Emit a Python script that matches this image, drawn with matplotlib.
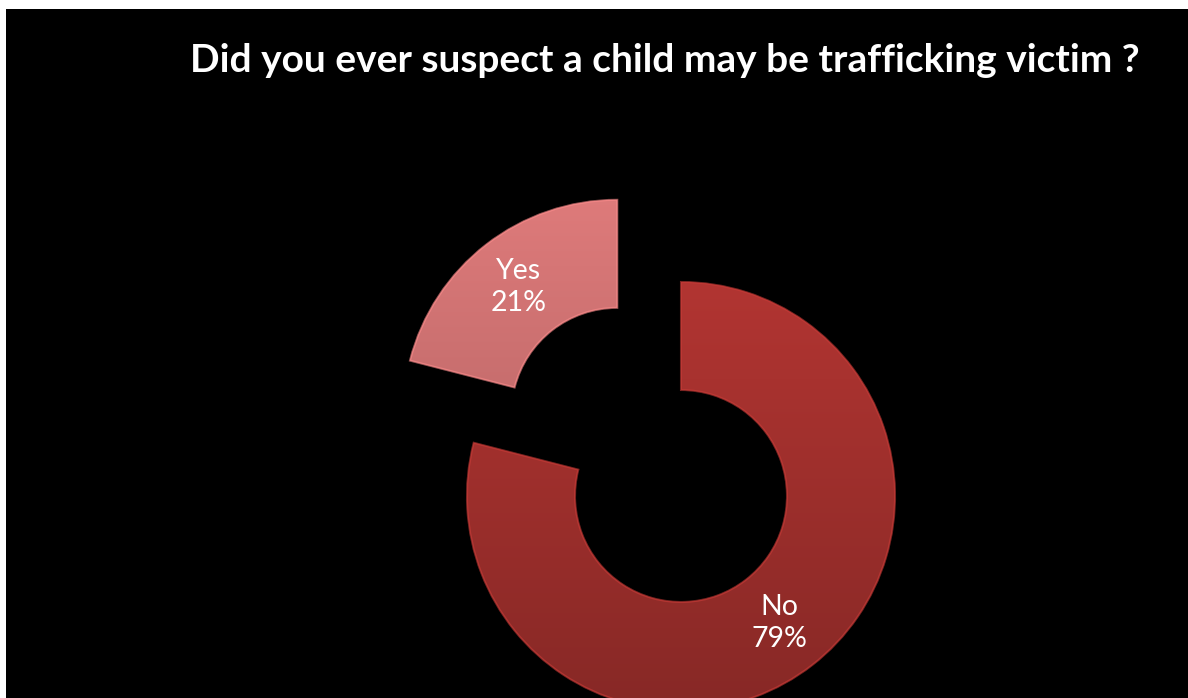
import numpy as np
import matplotlib
matplotlib.use("Agg")
import matplotlib.pyplot as plt
from matplotlib.patches import Rectangle, PathPatch

# Survey answers
categories = ["No", "Yes"]
shares = [79, 21]
colors = ["#A8322F", "#D67676"]
title = "Did you ever suspect a child may be trafficking victim ?"

W, H = 1188, 698
fig = plt.figure(figsize=(W / 100, H / 100), dpi=100, facecolor="white")
ax = fig.add_axes([0, 0, 1, 1])

# black chart area inside a thin white margin
ax.add_patch(Rectangle((6, 0), W - 6, H - 9, facecolor="black", edgecolor="none", zorder=0))

cx, cy, R = 681, H - 496, 214
ring = 108
labels = [f"{c}\n{v}%" for c, v in zip(categories, shares)]
wedges, texts = ax.pie(
    shares, labels=labels, colors=colors, center=(cx, cy), radius=R,
    startangle=90, counterclock=False, explode=[0, 104],
    labeldistance=0.75, frame=True,
    wedgeprops=dict(width=ring, edgecolor="none", linewidth=0),
    textprops=dict(color="white", fontsize=20.5, family="Lato", linespacing=1.3),
)
ax.set_xlim(0, W)
ax.set_ylim(0, H)
ax.set_aspect("equal")
ax.axis("off")

# shaded fill for each ring segment (darker toward the bottom)
shade = {colors[0]: (0.80, 1.06), colors[1]: (0.93, 1.04)}
for w, col in zip(wedges, colors):
    base = np.array(matplotlib.colors.to_rgb(col))
    lo, hi = shade[col]
    grad = np.linspace(lo, hi, 256)[:, None]
    img = np.clip(base[None, None, :] * grad[:, :, None], 0, 1)
    img = np.repeat(img, 2, axis=1)
    bb = w.get_path().get_extents()
    im = ax.imshow(img, extent=(bb.x0 - 5, bb.x1 + 5, bb.y0 - 5, bb.y1 + 5),
                   origin="lower", aspect="auto", zorder=1.5, interpolation="bilinear")
    im.set_clip_path(w)
    w.set_zorder(1)
    # soft lighter rim on the edges
    ax.add_patch(PathPatch(w.get_path(), facecolor="none",
                 edgecolor=np.clip(base * 1.2, 0, 1), linewidth=1.5, alpha=0.6, zorder=2))

ax.set_xlim(0, W)
ax.set_ylim(0, H)

for t in texts:
    t.set_ha("center")
    t.set_va("center")
    t.set_zorder(3)

ax.text(665, H - 72, title, color="white", fontsize=28, fontweight="bold",
        family="Lato", ha="center", va="baseline", zorder=3)

fig.savefig("out.png", dpi=100, facecolor="white")
